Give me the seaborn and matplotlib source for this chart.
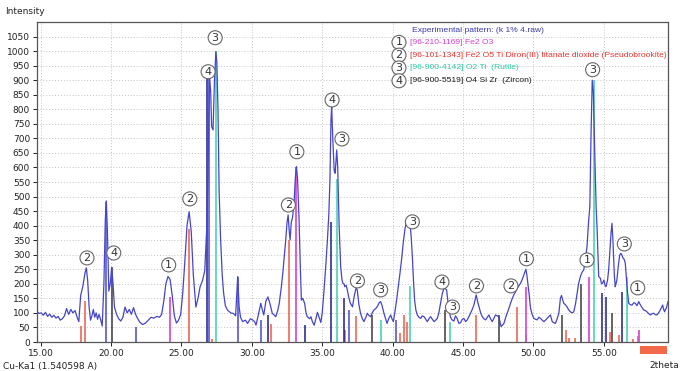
import numpy as np
import pandas as pd
import matplotlib
matplotlib.use("Agg")
import matplotlib.pyplot as plt
import seaborn as sns
from matplotlib.patches import Rectangle

# ---------------- data ----------------
two_theta = [14.75, 14.9, 15.05, 15.2, 15.35, 15.5, 15.65, 15.8, 15.95, 16.1, 16.25, 16.4, 16.55, 16.7,
             16.85, 17.0, 17.15, 17.3, 17.45, 17.6, 17.72, 17.85, 18.0, 18.15, 18.25, 18.35, 18.45, 18.55,
             18.65, 18.75, 18.85, 18.95, 19.05, 19.15, 19.25, 19.38, 19.5, 19.6, 19.67, 19.75, 19.85, 19.95,
             20.05, 20.15, 20.25, 20.4, 20.55, 20.7, 20.85, 21.0, 21.15, 21.3, 21.45, 21.6, 21.75, 21.9,
             22.05, 22.25, 22.45, 22.65, 22.85, 23.05, 23.25, 23.45, 23.6, 23.75, 23.9, 24.05, 24.2, 24.35,
             24.5, 24.65, 24.8, 24.95, 25.1, 25.25, 25.4, 25.55, 25.7, 25.85, 26.03, 26.18, 26.33, 26.5,
             26.66, 26.79, 26.88, 26.93, 27.0, 27.08, 27.15, 27.25, 27.35, 27.45, 27.52, 27.6, 27.68, 27.78,
             27.9, 28.0, 28.12, 28.27, 28.5, 28.7, 28.85, 28.92, 29.0, 29.1, 29.2, 29.35, 29.55, 29.7,
             29.9, 30.05, 30.2, 30.3, 30.45, 30.64, 30.75, 30.85, 31.0, 31.15, 31.3, 31.45, 31.6, 31.7,
             31.85, 31.95, 32.1, 32.2, 32.32, 32.41, 32.5, 32.58, 32.66, 32.72, 32.8, 32.9, 33.0, 33.1,
             33.17, 33.25, 33.35, 33.45, 33.52, 33.62, 33.75, 33.85, 33.94, 34.1, 34.2, 34.3, 34.43, 34.55,
             34.66, 34.78, 34.9, 35.0, 35.13, 35.25, 35.37, 35.47, 35.55, 35.62, 35.67, 35.75, 35.85, 35.92,
             36.03, 36.1, 36.2, 36.31, 36.4, 36.47, 36.55, 36.6, 36.7, 36.78, 36.9, 37.0, 37.15, 37.28,
             37.4, 37.49, 37.6, 37.72, 37.85, 37.96, 38.1, 38.2, 38.3, 38.44, 38.55, 38.67, 38.8, 38.9,
             39.05, 39.15, 39.25, 39.38, 39.5, 39.6, 39.72, 39.86, 39.95, 40.05, 40.15, 40.28, 40.4, 40.52,
             40.65, 40.75, 40.88, 40.99, 41.1, 41.23, 41.32, 41.4, 41.48, 41.56, 41.65, 41.75, 41.87, 41.99,
             42.1, 42.23, 42.35, 42.46, 42.58, 42.7, 42.82, 42.94, 43.05, 43.17, 43.28, 43.4, 43.52, 43.64,
             43.75, 43.83, 43.92, 44.0, 44.11, 44.22, 44.35, 44.46, 44.58, 44.7, 44.82, 44.94, 45.06, 45.18,
             45.3, 45.42, 45.53, 45.65, 45.77, 45.85, 45.93, 46.03, 46.13, 46.25, 46.36, 46.48, 46.6, 46.72,
             46.83, 46.95, 47.07, 47.18, 47.3, 47.42, 47.54, 47.62, 47.7, 47.8, 47.9, 48.0, 48.13, 48.25,
             48.37, 48.48, 48.6, 48.72, 48.84, 48.96, 49.08, 49.2, 49.31, 49.4, 49.46, 49.53, 49.6, 49.7,
             49.79, 49.9, 50.03, 50.15, 50.26, 50.38, 50.5, 50.62, 50.74, 50.85, 50.97, 51.1, 51.2, 51.33,
             51.45, 51.56, 51.68, 51.8, 51.91, 51.99, 52.07, 52.15, 52.27, 52.39, 52.5, 52.62, 52.74, 52.86,
             52.98, 53.1, 53.2, 53.33, 53.45, 53.57, 53.7, 53.8, 53.92, 54.0, 54.08, 54.17, 54.25, 54.35,
             54.45, 54.52, 54.58, 54.63, 54.75, 54.83, 54.9, 55.0, 55.08, 55.15, 55.26, 55.34, 55.4, 55.5,
             55.57, 55.63, 55.68, 55.74, 55.8, 55.86, 55.92, 56.02, 56.12, 56.2, 56.28, 56.34, 56.4, 56.47,
             56.52, 56.58, 56.64, 56.7, 56.76, 56.88, 57.0, 57.12, 57.23, 57.35, 57.47, 57.56, 57.66, 57.75,
             57.83, 57.95, 58.05, 58.17, 58.29, 58.41, 58.53, 58.65, 58.76, 58.88, 59.0, 59.1, 59.17, 59.24,
             59.31, 59.37, 59.43, 59.5, 59.55]
intensity = [105, 98, 100, 92, 102, 88, 96, 85, 92, 82, 88, 75, 80, 90,
             115, 95, 112, 100, 108, 85, 70, 160, 190, 235, 255, 210, 120, 75,
             90, 112, 85, 100, 78, 95, 80, 55, 200, 420, 485, 380, 175, 200,
             255, 200, 120, 95, 80, 72, 85, 120, 100, 112, 95, 118, 95, 80,
             68, 60, 65, 75, 85, 82, 88, 85, 95, 140, 200, 225, 215, 160,
             90, 65, 75, 95, 170, 280, 400, 448, 380, 230, 120, 150, 190, 211,
             245, 380, 560, 706, 913, 860, 740, 729, 900, 998, 960, 800, 520, 360,
             230, 168, 125, 110, 100, 98, 90, 150, 225, 121, 85, 70, 75, 64,
             80, 76, 70, 58, 90, 133, 110, 93, 140, 155, 130, 99, 92, 87,
             110, 133, 190, 236, 300, 351, 410, 437, 380, 351, 410, 430, 480, 570,
             603, 560, 430, 250, 144, 150, 133, 100, 87, 80, 87, 70, 58, 80,
             102, 85, 67, 100, 179, 260, 351, 440, 560, 760, 810, 700, 590, 580,
             660, 600, 400, 259, 215, 201, 200, 190, 195, 179, 150, 133, 121, 160,
             185, 179, 130, 99, 80, 70, 85, 99, 92, 87, 100, 110, 115, 121,
             135, 139, 125, 99, 80, 64, 80, 93, 80, 70, 100, 144, 190, 236,
             290, 340, 390, 414, 405, 408, 360, 293, 210, 144, 110, 93, 85, 81,
             90, 87, 78, 70, 80, 87, 78, 70, 75, 81, 100, 133, 165, 185,
             183, 179, 140, 110, 85, 76, 72, 90, 81, 64, 66, 78, 81, 70,
             76, 88, 99, 112, 127, 145, 162, 140, 122, 100, 87, 80, 76, 85,
             93, 80, 70, 80, 93, 90, 87, 70, 53, 58, 64, 80, 99, 115,
             133, 148, 162, 172, 185, 193, 202, 215, 230, 242, 250, 230, 202, 160,
             116, 95, 81, 78, 76, 85, 81, 75, 70, 75, 81, 88, 93, 70,
             66, 64, 80, 99, 150, 160, 145, 133, 128, 120, 110, 104, 100, 104,
             130, 168, 200, 225, 240, 248, 290, 328, 420, 465, 700, 900, 860, 650,
             460, 385, 300, 225, 219, 200, 202, 213, 195, 190, 213, 250, 293, 370,
             408, 360, 299, 230, 190, 200, 213, 260, 299, 305, 299, 290, 287, 280,
             270, 230, 190, 160, 133, 128, 127, 135, 133, 125, 139, 130, 122, 115,
             110, 108, 104, 98, 93, 97, 99, 94, 93, 100, 110, 120, 127, 112,
             104, 112, 116, 130, 139]

# reference pattern sticks (position, height)
fe2o3_pos = [24.16, 33.17, 49.45, 53.95, 57.5]
fe2o3_h = [155, 600, 190, 225, 40]
pseudo_pos = [17.9, 18.17, 25.57, 27.14, 31.35, 32.63, 36.62, 37.43, 40.55, 40.8, 41.0, 45.93,
              48.8, 49.5, 52.3, 52.5, 52.98, 55.46, 56.05, 57.1, 57.4]
pseudo_h = [55, 140, 390, 12, 62, 350, 40, 90, 30, 93, 70, 93,
            121, 25, 41, 15, 15, 35, 25, 10, 20]
rutile_pos = [27.45, 36.08, 39.2, 41.25, 44.05, 54.3, 56.62]
rutile_h = [1000, 560, 76, 193, 70, 900, 225]
zircon_pos = [20.05, 38.5, 43.7, 47.55, 52.05, 53.4, 55.58]
zircon_h = [259, 93, 110, 93, 93, 200, 101]
marker_dark_pos = [26.8, 31.15, 33.8, 35.65, 36.55, 54.87, 55.16, 56.29]
marker_dark_h = [910, 93, 60, 414, 150, 167, 156, 173]
marker_light_pos = [19.68, 21.8, 26.95, 28.99, 30.64, 36.9, 40.26]
marker_light_h = [480, 53, 910, 225, 76, 110, 76]

# circled phase labels: (2theta, intensity, phase number)
label_x = [18.3, 20.2, 24.1, 25.6, 26.9, 27.4, 32.6, 33.2, 35.7, 36.4, 37.5, 39.15, 41.4,
           43.5, 44.25, 45.95, 48.4, 49.5, 53.8, 54.2, 56.45, 57.4]
label_y = [289, 306, 265, 492, 929, 1046, 471, 654, 832, 698, 210, 179, 413,
           206, 120, 193, 193, 286, 282, 936, 337, 186]
label_n = ["2", "4", "1", "2", "4", "3", "2", "1", "4", "3", "2", "3", "3",
           "4", "3", "2", "2", "1", "1", "3", "3", "1"]

legend_nums = ["1", "2", "3", "4"]
legend_texts = ["[96-210-1169] Fe2 O3",
                "[96-101-1343] Fe2 O5 Ti Diron(III) titanate dioxide (Pseudobrookite)",
                "[96-900-4142] O2 Ti  (Rutile)",
                "[96-900-5519] O4 Si Zr  (Zircon)"]
legend_colors = ["#d63fd6", "#e8332e", "#2ec9a2", "#1a1a1a"]

x_ticks = [15, 20, 25, 30, 35, 40, 45, 50, 55]
y_ticks = list(range(0, 1051, 50))

# ---------------- plot ----------------
sns.set_theme(style="white")
plt.rcParams["font.family"] = ["DejaVu Sans"]

fig = plt.figure(figsize=(6.82, 3.71), dpi=100)
ax = fig.add_axes([37 / 682, 1 - 342 / 371, (668 - 37) / 682, (342 - 22) / 371])

df = pd.DataFrame({"2theta": two_theta, "Intensity": intensity})

ax.vlines(pseudo_pos, 0, pseudo_h, colors="#ec5a48", lw=1.1, zorder=2)
ax.vlines(fe2o3_pos, 0, fe2o3_h, colors="#d84fd8", lw=1.3, zorder=2)
ax.vlines(zircon_pos, 0, zircon_h, colors="#3a3a3a", lw=1.1, zorder=2)
ax.vlines(marker_light_pos, 0, marker_light_h, colors="#6f6fd6", lw=1.4, zorder=2)
ax.vlines(marker_dark_pos, 0, marker_dark_h, colors="#1c1c8a", lw=1.1, zorder=2)
ax.vlines(rutile_pos, 0, rutile_h, colors="#3ccfb0", lw=1.1, zorder=2)

sns.lineplot(data=df, x="2theta", y="Intensity", ax=ax, color="#4545cc", lw=0.9,
             zorder=3, sort=False)

circ = dict(boxstyle="circle,pad=0.18", fc="white", ec="#666666", lw=0.8)
for x, y, n in zip(label_x, label_y, label_n):
    ax.text(x, y, n, ha="center", va="center", fontsize=8, color="#333333", zorder=5, bbox=circ)

# legend-like text block
ax.text(41.4, 1070, "Experimental pattern: (k 1% 4.raw)", fontsize=6.1, color="#3a3ab0",
        ha="left", va="center", zorder=6, family="Liberation Sans")
for i, (n, t, c) in enumerate(zip(legend_nums, legend_texts, legend_colors)):
    yy = 1030 - i * 44
    ax.text(40.45, yy, n, ha="center", va="center", fontsize=8, color="#333333", zorder=6, bbox=circ)
    ax.text(41.25, yy, t, fontsize=6.1, color=c, ha="left", va="center", zorder=6,
            family="Liberation Sans")

ax.set_xlim(14.75, 59.55)
ax.set_ylim(0, 1100)
ax.set_xticks(x_ticks)
ax.set_xticklabels([f"{v:.2f}" for v in x_ticks])
ax.set_yticks(y_ticks)
ax.set_yticklabels([str(v) for v in y_ticks])
ax.tick_params(axis="both", labelsize=6.5, colors="#222222", length=3, width=0.7, pad=2,
               direction="out", bottom=True, left=True)
ax.set_xlabel("")
ax.set_ylabel("")
ax.grid(True, ls=(0, (1, 2)), color="#c4c4c4", lw=0.7)
ax.set_axisbelow(True)
for s in ax.spines.values():
    s.set_color("#555555")
    s.set_linewidth(0.9)

fig.text(5 / 682, 1 - 12 / 371, "Intensity", fontsize=6.5, color="#222222", ha="left", va="center")
fig.text(3 / 682, 1 - 366 / 371, "Cu-Ka1 (1.540598 A)", fontsize=6.5, color="#222222",
         ha="left", va="center")
fig.text(679 / 682, 1 - 366 / 371, "2theta", fontsize=6.5, color="#222222", ha="right", va="center")
fig.patches.append(Rectangle((640 / 682, 1 - 354 / 371), 27 / 682, 8 / 371,
                             transform=fig.transFigure, fc="#f26a4a", ec="none"))

fig.savefig("out.png", dpi=100)
